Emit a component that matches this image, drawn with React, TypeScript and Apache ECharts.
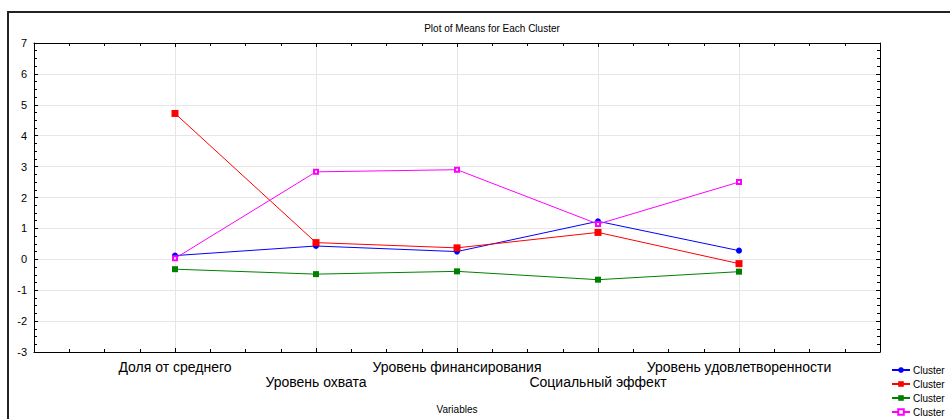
import React, { useEffect, useRef } from "react";
import * as echarts from "echarts";

const categories = [
  "Доля от среднего",
  "Уровень охвата",
  "Уровень финансирования",
  "Социальный эффект",
  "Уровень удовлетворенности",
];
const cluster1 = [0.12, 0.43, 0.25, 1.23, 0.28];
const cluster2 = [4.72, 0.54, 0.37, 0.87, -0.14];
const cluster3 = [-0.32, -0.48, -0.39, -0.66, -0.4];
const cluster4 = [0.03, 2.83, 2.9, 1.14, 2.5];
const seriesNames = ["Cluster 1", "Cluster 2", "Cluster 3", "Cluster 4"];
const legendLabel = "Cluster";
const title = "Plot of Means for Each Cluster";
const xAxisName = "Variables";
const yMin = -3;
const yMax = 7;

const FONT = "'Liberation Sans', Arial, sans-serif";

export default function App() {
  const ref = useRef<HTMLDivElement>(null);
  useEffect(() => {
    const chart = echarts.init(ref.current!, undefined, { renderer: "svg" });
    const toPts = (arr: number[]) => arr.map((v, i) => [i + 1, v]);
    const mk = (
      name: string,
      data: number[],
      color: string,
      symbol: string,
      size: number
    ) => ({
      name,
      type: "line",
      data: toPts(data),
      symbol,
      symbolSize: size,
      lineStyle: { color, width: 1 },
      itemStyle: { color, borderWidth: symbol === "emptyRect" ? 1 : 0 },
      emphasis: { disabled: true },
    });
    const axisCommonX = {
      type: "value",
      min: 0,
      max: 6,
      interval: 1,
      axisLine: { show: true, onZero: false, lineStyle: { color: "#000", width: 1 } },
      axisTick: { show: true, inside: true, length: 4, lineStyle: { color: "#000" } },
      minorTick: { show: true, splitNumber: 4, length: 3, lineStyle: { color: "#000" } },
    };
    const axisCommonY = {
      type: "value",
      min: yMin,
      max: yMax,
      interval: 1,
      axisLine: { show: true, onZero: false, lineStyle: { color: "#000", width: 1 } },
      axisTick: { show: true, inside: true, length: 4, lineStyle: { color: "#000" } },
      minorTick: { show: true, splitNumber: 4, length: 3, lineStyle: { color: "#000" } },
    };
    chart.setOption({
      animation: false,
      textStyle: { fontFamily: FONT },
      title: {
        text: title,
        left: 492,
        top: 23,
        padding: 0,
        textAlign: "center",
        textStyle: { fontSize: 10, fontWeight: "normal", color: "#000", fontFamily: FONT },
      },
      legend: {
        orient: "vertical",
        left: 891,
        top: 365,
        padding: 0,
        itemWidth: 18,
        itemHeight: 7,
        itemGap: 4,
        formatter: () => legendLabel,
        textStyle: { fontSize: 10, color: "#000", fontFamily: FONT, padding: [0, 0, 0, -2] },
        data: seriesNames,
      },
      graphic: [
        {
          type: "rect",
          shape: { x: 8, y: 12, width: 1000, height: 500 },
          style: { fill: "none", stroke: "#222", lineWidth: 2 },
          silent: true,
        },
      ],
      grid: { left: 34, right: 70, top: 43, bottom: 63, containLabel: false },
      xAxis: [
        {
          ...axisCommonX,
          position: "bottom",
          name: xAxisName,
          nameLocation: "middle",
          nameGap: 52,
          nameTextStyle: { fontSize: 10, color: "#000", fontFamily: FONT },
          axisLabel: {
            show: true,
            margin: 7,
            color: "#000",
            fontSize: 14,
            lineHeight: 15,
            fontFamily: FONT,
            formatter: (v: number) => {
              const i = Math.round(v) - 1;
              if (i < 0 || i >= categories.length) return "";
              return i % 2 === 1 ? "\n" + categories[i] : categories[i];
            },
          },
          splitLine: { show: true, lineStyle: { color: "#e6e6e6", width: 1 } },
        },
        {
          ...axisCommonX,
          position: "top",
          axisLabel: { show: false },
          splitLine: { show: false },
        },
      ],
      yAxis: [
        {
          ...axisCommonY,
          position: "left",
          axisLabel: { show: true, color: "#000", fontSize: 11, margin: 7, fontFamily: FONT },
          splitLine: { show: true, lineStyle: { color: "#e6e6e6", width: 1 } },
        },
        {
          ...axisCommonY,
          position: "right",
          axisLabel: { show: false },
          splitLine: { show: false },
        },
      ],
      series: [
        mk(seriesNames[0], cluster1, "#0000ff", "circle", 6),
        mk(seriesNames[1], cluster2, "#ff0000", "rect", 7),
        mk(seriesNames[2], cluster3, "#008000", "rect", 6),
        mk(seriesNames[3], cluster4, "#ff00ff", "emptyRect", 4),
      ],
    });
    return () => chart.dispose();
  }, []);
  return (
    <div
      ref={ref}
      style={{ position: "fixed", left: 0, top: 0, width: 950, height: 419, background: "#fff" }}
    />
  );
}
